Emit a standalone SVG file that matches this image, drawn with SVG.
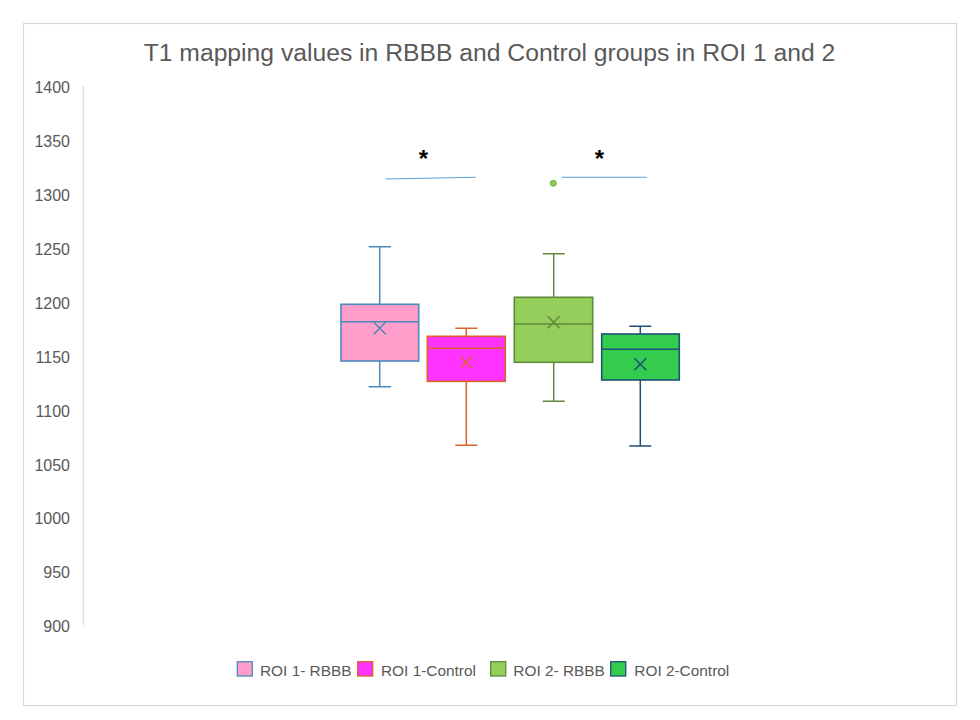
<svg xmlns="http://www.w3.org/2000/svg" width="980" height="720" viewBox="0 0 980 720">
<style>
text{font-family:"Liberation Sans",Arial,sans-serif;fill:#595959}
.ax{font-size:16px;text-anchor:end}
.lg{font-size:15.4px}
.star{font-size:24px;font-weight:bold;fill:#000;text-anchor:middle}
.b1{fill:#FF9ECB;stroke:#4A89BC}
.b2{fill:#FF33FF;stroke:#D9622B}
.b3{fill:#95CE5A;stroke:#5E8A3C}
.b4{fill:#33CC4D;stroke:#1F4E79}
.s1{stroke:#4A89BC}
.s2{stroke:#D9622B}
.s3{stroke:#5E8A3C}
.s4{stroke:#1F4E79}
.box rect{stroke-width:1.6}
.box path{fill:none;stroke-width:1.5}
</style>
<rect x="23.5" y="23.5" width="933" height="682" fill="#fff" stroke="#d9d9d9" stroke-width="1.2"/>
<text x="489.5" y="61" font-size="24.7" text-anchor="middle">T1 mapping values in RBBB and Control groups in ROI 1 and 2</text>
<g id="y-axis">
<line x1="83.3" y1="86" x2="83.3" y2="625" stroke="#d9d9d9" stroke-width="1.2"/>
<text class="ax" x="70" y="93.3">1400</text>
<text class="ax" x="70" y="147.2">1350</text>
<text class="ax" x="70" y="201.1">1300</text>
<text class="ax" x="70" y="255">1250</text>
<text class="ax" x="70" y="308.8">1200</text>
<text class="ax" x="70" y="362.7">1150</text>
<text class="ax" x="70" y="416.6">1100</text>
<text class="ax" x="70" y="470.5">1050</text>
<text class="ax" x="70" y="524.4">1000</text>
<text class="ax" x="70" y="578.2">950</text>
<text class="ax" x="70" y="632.1">900</text>
</g>
<g id="box-roi1-rbbb" class="box">
<path class="s1" d="M379.7 246.7V304.3M379.7 361V386.7M368.7 246.7H391M368.7 386.7H391"/>
<rect class="b1" x="341" y="304.3" width="77.7" height="56.7"/>
<path class="s1" d="M341 321.7H418.7M373.7 322.3l12 12M385.7 322.3l-12 12"/>
</g>
<g id="box-roi1-control" class="box">
<path class="s2" d="M466.3 328.3V336.3M466.3 381.3V445.3M455.3 328.3H477.3M455.3 445.3H477.3"/>
<rect class="b2" x="427.3" y="336.3" width="78" height="45"/>
<path class="s2" d="M427.3 348.3H505.3M460.3 356.3l12 12M472.3 356.3l-12 12"/>
</g>
<g id="box-roi2-rbbb" class="box">
<path class="s3" d="M553.7 253.7V297.3M553.7 362.3V401.3M542.7 253.7H564.7M542.7 401.3H564.7"/>
<rect class="b3" x="514.3" y="297.3" width="78.4" height="65"/>
<path class="s3" d="M514.3 324H592.7M547.7 316.3l12 12M559.7 316.3l-12 12"/>
<circle cx="553.3" cy="183.3" r="3" fill="#92D050" stroke="#6AA840" stroke-width="1"/>
</g>
<g id="box-roi2-control" class="box">
<path class="s4" d="M640.3 326.3V334M640.3 380V446M629.3 326.3H651.3M629.3 446H651.3"/>
<rect class="b4" x="601.7" y="334" width="77.6" height="46"/>
<path class="s4" d="M601.7 349.3H679.3M634.3 358.3l12 12M646.3 358.3l-12 12"/>
</g>
<g id="connectors" stroke="#5B9BD5" stroke-width="1.1" fill="none">
<line x1="385.7" y1="179" x2="475.7" y2="177.3"/>
<line x1="561.7" y1="177.3" x2="646.7" y2="177.3"/>
</g>
<g id="stars">
<text class="star" x="423.3" y="167">*</text>
<text class="star" x="599.3" y="167">*</text>
</g>
<g id="legend">
<rect class="b1" x="237.3" y="661.7" width="15" height="14.3" stroke-width="1.3"/>
<text class="lg" x="260" y="676">ROI 1- RBBB</text>
<rect class="b2" x="357.7" y="661.7" width="15" height="14.3" stroke-width="1.3"/>
<text class="lg" x="381" y="676">ROI 1-Control</text>
<rect class="b3" x="490.7" y="661.7" width="15" height="14.3" stroke-width="1.3"/>
<text class="lg" x="513.3" y="676">ROI 2- RBBB</text>
<rect class="b4" x="610.7" y="661.7" width="15" height="14.3" stroke-width="1.3"/>
<text class="lg" x="634.3" y="676">ROI 2-Control</text>
</g>
</svg>
